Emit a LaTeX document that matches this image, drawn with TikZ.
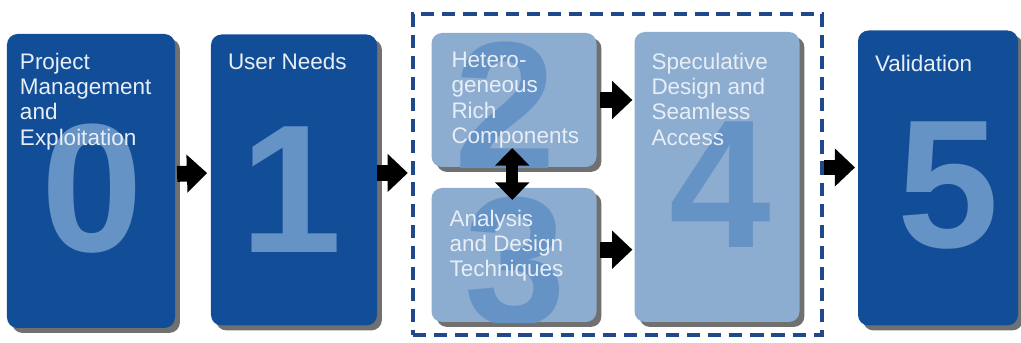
\documentclass[tikz,border=0pt]{standalone}
\usepackage{fontspec}
\setmainfont{Liberation Sans}
\usetikzlibrary{arrows.meta,shadows}

\definecolor{darkstage}{RGB}{18,78,152}
\definecolor{lightstage}{RGB}{140,172,208}
\definecolor{digitblue}{RGB}{102,147,197}
\definecolor{labelwhite}{RGB}{232,238,246}
\definecolor{frameblue}{RGB}{32,72,140}

\tikzset{
	stage/.style={rectangle, rounded corners=6pt, inner sep=0pt,
		drop shadow={shadow xshift=2.8pt, shadow yshift=-2.8pt, fill=black!80, opacity=0.7}},
	darkbox/.style={stage, fill=darkstage},
	lightbox/.style={stage, fill=lightstage},
	digit/.style={anchor=base, inner sep=0pt, text=digitblue, font=\fontsize{104}{104}\selectfont\bfseries},
	stagelabel/.style={anchor=north west, inner sep=0pt, align=left, text=labelwhite,
		font=\fontsize{12.8}{14.4}\selectfont},
	bigarrow/.style={black, line width=9pt, -{Triangle[length=11.5pt, width=21pt]}},
	twoarrow/.style={black, line width=7pt, {Triangle[length=10pt, width=19pt]}-{Triangle[length=10pt, width=19pt]}}
}

\begin{document}
\begin{tikzpicture}[x=0.2mm, y=-0.2mm]
	\useasboundingbox (0,0) rectangle (1021,343);

	% dashed frame round stages 2 to 4
	\node[draw=frameblue, line width=1.9pt, dash pattern=on 7.5pt off 4.5pt, minimum width=81.8mm, minimum height=64.2mm, inner sep=0pt] (group) at (617.5,174.5) {};

	\node[darkbox, minimum width=33.6mm, minimum height=58.8mm] (b0) at (91,181) {};
	\node[darkbox, minimum width=33.2mm, minimum height=58.2mm] (b1) at (294,180) {};
	\node[lightbox, minimum width=33mm, minimum height=26.8mm] (b2) at (514,100) {};
	\node[lightbox, minimum width=33mm, minimum height=26.8mm] (b3) at (514,255) {};
	\node[lightbox, minimum width=33mm, minimum height=58mm] (b4) at (717,177) {};
	\node[darkbox, minimum width=32mm, minimum height=59mm] (b5) at (938,178) {};

	% big numbers, cut to their boxes
	\foreach \bx/\num/\px/\py in {b0/0/92/252, b1/1/291/253, b2/2/505/170, b3/3/515/325, b4/4/720/248, b5/5/948/248} {
		\begin{scope}
			\clip[rounded corners=6pt] (\bx.south west) rectangle (\bx.north east);
			\node[digit] (d\num) at (\px,\py) {\num};
		\end{scope}
	}

	\node[stagelabel] (t0) at ([shift={(13,19)}]b0.north west) {Project\\Management\\and\\Exploitation};
	\node[stagelabel] (t1) at ([shift={(17,19)}]b1.north west) {User Needs};
	\node[stagelabel] (t2) at ([shift={(20,19)}]b2.north west) {Hetero-\\geneous\\Rich\\Components};
	\node[stagelabel] (t3) at ([shift={(18,22)}]b3.north west) {Analysis\\and Design\\Techniques};
	\node[stagelabel] (t4) at ([shift={(17,21)}]b4.north west) {Speculative\\Design and\\Seamless\\Access};
	\node[stagelabel] (t5) at ([shift={(17,25)}]b5.north west) {Validation};

	\draw[bigarrow, shorten <=1pt, shorten >=2pt] ([yshift=4pt]b0.east) -- ([yshift=4pt]b1.west);
	\draw[bigarrow, shorten >=2pt] ([yshift=4pt]b1.east) -- ([yshift=4pt]b1.east -| group.west);
	\draw[bigarrow, shorten <=2pt, shorten >=1pt] (b2.east) -- (b2.east -| b4.west);
	\draw[bigarrow, shorten <=2pt, shorten >=1pt] ([yshift=3pt]b3.east) -- ([yshift=3pt]b3.east -| b4.west);
	\draw[twoarrow, shorten <=-11pt, shorten >=-7pt] ([xshift=-1pt]b2.south) -- ([xshift=-1pt]b3.north);
	\draw[bigarrow, shorten >=1.5pt] ([yshift=4pt]group.east) -- ([yshift=4pt]group.east -| b5.west);

\end{tikzpicture}
\end{document}
